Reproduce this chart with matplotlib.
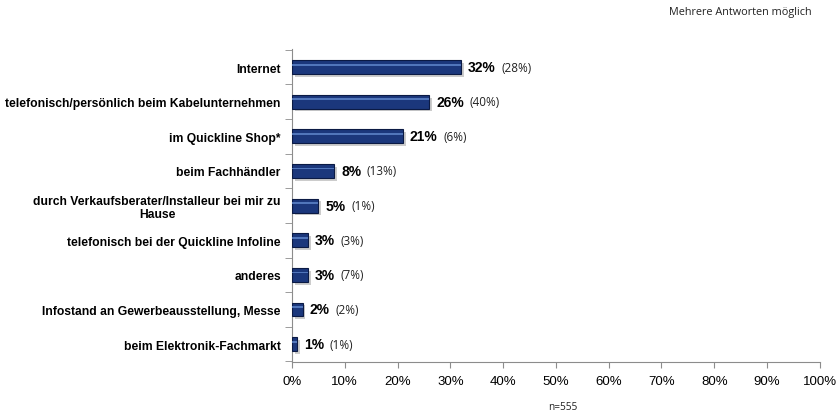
import numpy as np
import matplotlib
matplotlib.use("Agg")
import matplotlib.pyplot as plt
import matplotlib.patheffects as pe

# data
kategorien = ["Internet",
              "telefonisch/persönlich beim Kabelunternehmen",
              "im Quickline Shop*",
              "beim Fachhändler",
              "durch Verkaufsberater/Installeur bei mir zu\nHause",
              "telefonisch bei der Quickline Infoline",
              "anderes",
              "Infostand an Gewerbeausstellung, Messe",
              "beim Elektronik-Fachmarkt"]
werte = [32, 26, 21, 8, 5, 3, 3, 2, 1]
vorjahr = [28, 40, 6, 13, 1, 3, 7, 2, 1]
x_ticks = list(range(0, 101, 10))

plt.rcParams['font.family'] = ['Liberation Sans', 'DejaVu Sans']

fig = plt.figure(figsize=(8.4, 4.14), dpi=100)
ax = fig.add_axes([0.3476, 0.123, 0.976 - 0.3476, 0.879 - 0.123])

y = np.arange(len(kategorien))
bars = ax.barh(y, werte, height=0.4, color="#1b377c", edgecolor="#0b1a44", linewidth=0.8, zorder=3)
for b in bars:
    b.set_path_effects([pe.SimplePatchShadow(offset=(2, -2), shadow_rgbFace="#9a9a9a", alpha=0.5), pe.Normal()])
# helle Kante oben im Balken
ax.barh(y - 0.07, werte, height=0.05, color="#5f86cc", linewidth=0, zorder=4, alpha=0.8)

for i in range(len(kategorien)):
    t = ax.annotate(f"{werte[i]}%", xy=(werte[i], y[i]), xytext=(5, 0), textcoords="offset points",
                    ha="left", va="center", fontsize=10, fontweight="bold", color="#000000")
    ax.annotate(f"({vorjahr[i]}%)", xy=(1, 0.5), xycoords=t, xytext=(4, 0), textcoords="offset points",
                ha="left", va="center", fontsize=8.5, color="#222222", family=["Open Sans", "DejaVu Sans"])

ax.set_xlim(0, 100)
ax.set_ylim(len(kategorien) - 0.48, -0.52)
ax.set_xticks(x_ticks)
ax.set_xticklabels([f"{v}%" for v in x_ticks], fontsize=9.5)
ax.set_yticks(y)
ax.set_yticklabels(kategorien, fontsize=8.7, fontweight="bold", multialignment="center", linespacing=1.05)
ax.tick_params(axis="y", length=0, pad=8)
ax.set_yticks(np.arange(-0.5, len(kategorien), 1), minor=True)
ax.tick_params(axis="y", which="minor", length=5, color="#8c8c8c", direction="out")
ax.tick_params(axis="x", length=4, color="#8c8c8c", direction="out", pad=5)

for s in ["top", "right"]:
    ax.spines[s].set_visible(False)
for s in ["left", "bottom"]:
    ax.spines[s].set_color("#8c8c8c")
    ax.spines[s].set_linewidth(0.8)

fig.text(563 / 840, 1 - 408 / 414, "n=555", ha="center", va="center", fontsize=7.3,
         family=["Open Sans", "DejaVu Sans"], color="#222222")
fig.text(812 / 840, 1 - 12 / 414, "Mehrere Antworten möglich", ha="right", va="center", fontsize=7.8,
         family=["Open Sans", "DejaVu Sans"], color="#222222")

fig.savefig("out.png", dpi=100)
